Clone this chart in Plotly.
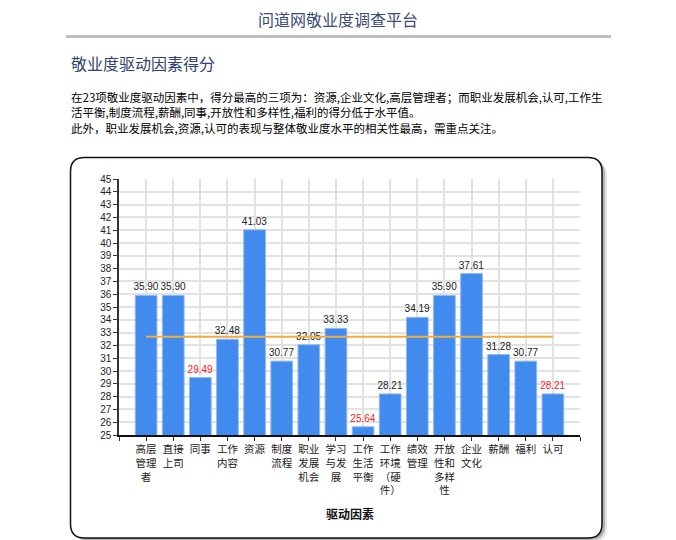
import plotly.graph_objects as go

# the page puts the figure 8px in from the top-left corner, so the figure is
# drawn 8px smaller and positions below are given in window pixels
OFF = 8
W, H = 676 - OFF, 540 - OFF
L, R, T, B = 119 - OFF, 96, 179 - OFF, 105

# data
factors = ["高层管理者", "直接上司", "同事", "工作内容", "资源", "制度流程", "职业发展机会",
           "学习与发展", "工作生活平衡", "工作环境（硬件）", "绩效管理", "开放性和多样性",
           "企业文化", "薪酬", "福利", "认可"]
tick_labels = ["高层<br>管理<br>者", "直接<br>上司", "同事", "工作<br>内容", "资源", "制度<br>流程",
               "职业<br>发展<br>机会", "学习<br>与发<br>展", "工作<br>生活<br>平衡",
               "工作<br>环境<br>（硬<br>件）", "绩效<br>管理", "开放<br>性和<br>多样<br>性",
               "企业<br>文化", "薪酬", "福利", "认可"]
scores = [35.90, 35.90, 29.49, 32.48, 41.03, 30.77, 32.05, 33.33,
          25.64, 28.21, 34.19, 35.90, 37.61, 31.28, 30.77, 28.21]
average_score = 32.67
low_factors = ["同事", "工作生活平衡", "认可"]

page_title = "问道网敬业度调查平台"
section_title = "敬业度驱动因素得分"
summary_lines = [
    "在23项敬业度驱动因素中，得分最高的三项为：资源,企业文化,高层管理者；而职业发展机会,认可,工作生",
    "活平衡,制度流程,薪酬,同事,开放性和多样性,福利的得分低于水平值。",
    "此外，职业发展机会,资源,认可的表现与整体敬业度水平的相关性最高，需重点关注。",
]
axis_title = "驱动因素"

FONT = "Liberation Sans, Noto Sans CJK SC, sans-serif"
CJK = "Noto Sans CJK SC, sans-serif"


def px(x):
    # window pixel -> paper x
    return (x - OFF - L) / (W - L - R)


def py(y):
    # window pixel -> paper y
    return (H - B - (y - OFF)) / (H - T - B)


def rounded_rect(x0, y0, x1, y1, r):
    return (f"M {px(x0 + r)},{py(y0)} L {px(x1 - r)},{py(y0)} "
            f"Q {px(x1)},{py(y0)} {px(x1)},{py(y0 + r)} L {px(x1)},{py(y1 - r)} "
            f"Q {px(x1)},{py(y1)} {px(x1 - r)},{py(y1)} L {px(x0 + r)},{py(y1)} "
            f"Q {px(x0)},{py(y1)} {px(x0)},{py(y1 - r)} L {px(x0)},{py(y0 + r)} "
            f"Q {px(x0)},{py(y0)} {px(x0 + r)},{py(y0)} Z")


xpos = list(range(1, len(factors) + 1))
label_colors = ["#ff2020" if f in low_factors else "#222222" for f in factors]

fig = go.Figure()

fig.add_trace(go.Bar(
    x=xpos, y=scores, width=0.8,
    marker=dict(color="#428bee", line=dict(color="#8db8f5", width=1)),
    text=[f"{v:.2f}" for v in scores],
    textposition="outside",
    constraintext="none",
    textfont=dict(family=FONT, size=10, color=label_colors),
    cliponaxis=False,
    hovertext=factors,
))

fig.add_trace(go.Scatter(
    x=[xpos[0], xpos[-1]], y=[average_score, average_score],
    mode="lines", line=dict(color="#f2ac3c", width=2),
))

shapes = [
    # right page border
    dict(type="line", xref="paper", yref="paper", x0=px(675), x1=px(675), y0=py(OFF), y1=py(540),
         line=dict(color="#cccccc", width=1.5)),
    # rule under page title
    dict(type="line", xref="paper", yref="paper", x0=px(66), x1=px(611), y0=py(36.5), y1=py(36.5),
         line=dict(color="#c0c0c0", width=3)),
    # card shadow + card
    dict(type="path", xref="paper", yref="paper", layer="below",
         path=rounded_rect(75, 162, 607, 542, 14), fillcolor="rgba(0,0,0,0.10)", line=dict(width=0)),
    dict(type="path", xref="paper", yref="paper", layer="below",
         path=rounded_rect(73, 160, 605, 540, 14), fillcolor="rgba(0,0,0,0.22)", line=dict(width=0)),
    dict(type="path", xref="paper", yref="paper", layer="below",
         path=rounded_rect(70.5, 157.5, 602, 538, 14), fillcolor="white",
         line=dict(color="#111111", width=1.5)),
]

annotations = [
    dict(text=page_title, x=px(338), y=py(18.5), font=dict(family=CJK, size=16, color="#3b4a78")),
    dict(text=section_title, x=px(69), y=py(63), xanchor="left",
         font=dict(family=CJK, size=16, color="#2f436f")),
    dict(text=summary_lines[0], x=px(69), y=py(97), xanchor="left",
         font=dict(family=CJK, size=11.5, color="#000000")),
    dict(text=summary_lines[1], x=px(69), y=py(111.5), xanchor="left",
         font=dict(family=CJK, size=11.5, color="#000000")),
    dict(text=summary_lines[2], x=px(69), y=py(127.5), xanchor="left",
         font=dict(family=CJK, size=11.5, color="#000000")),
    dict(text="<b>" + axis_title + "</b>", x=px(350), y=py(513),
         font=dict(family=CJK, size=12, color="#111111")),
]
for a in annotations:
    a.update(xref="paper", yref="paper", showarrow=False)
    a.setdefault("xanchor", "center")
    a["yanchor"] = "middle"

fig.update_layout(
    width=W, height=H,
    margin=dict(l=L, r=R, t=T, b=B, pad=0),
    paper_bgcolor="white",
    plot_bgcolor="rgba(0,0,0,0)",
    showlegend=False,
    font=dict(family=FONT, color="#222222"),
    shapes=shapes,
    annotations=annotations,
    xaxis=dict(
        range=[0, len(factors) + 1],
        tickmode="array",
        tickvals=list(range(0, len(factors) + 2)),
        ticktext=[""] + tick_labels + [""],
        tickfont=dict(family=CJK, size=10.5, color="#222222"),
        ticks="outside", ticklen=4, tickcolor="#333333",
        showgrid=True, gridcolor="#e2e2e2", gridwidth=1.5,
        showline=True, linecolor="#111111", linewidth=1.5,
        zeroline=False, fixedrange=True,
    ),
    yaxis=dict(
        range=[25, 45], tick0=25, dtick=1,
        tickfont=dict(family=FONT, size=10, color="#222222"),
        ticks="outside", ticklen=4, tickcolor="#333333",
        showgrid=True, gridcolor="#e2e2e2", gridwidth=1.5,
        showline=True, linecolor="#333333", linewidth=1.5,
        zeroline=False, fixedrange=True,
    ),
)

fig.write_html("out.html")
